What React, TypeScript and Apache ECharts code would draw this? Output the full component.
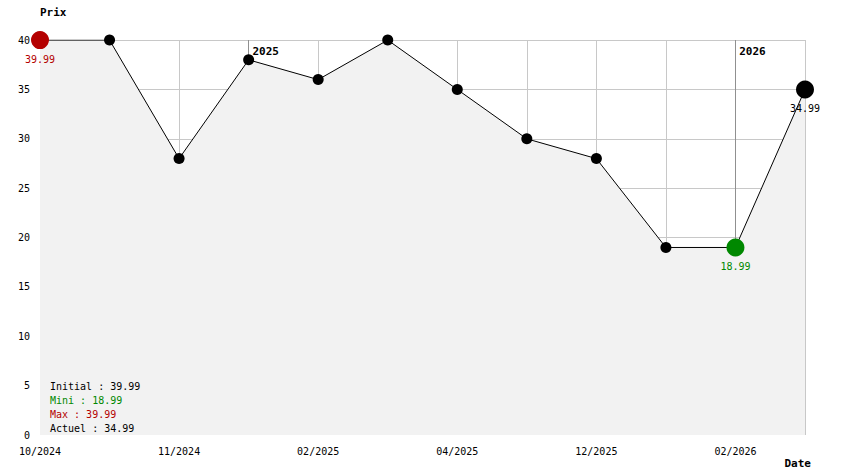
import React, { useEffect, useRef } from "react";
import * as echarts from "echarts";

const dates = [
  "05/10/2024", "25/10/2024", "15/11/2024", "10/01/2025", "03/02/2025", "20/03/2025",
  "12/04/2025", "15/07/2025", "08/12/2025", "28/12/2025", "10/02/2026", "05/03/2026",
];
const prices = [39.99, 39.99, 27.99, 37.99, 35.99, 39.99, 34.99, 29.99, 27.99, 18.99, 18.99, 34.99];
const yTicks = [0, 5, 10, 15, 20, 25, 30, 35, 40];

const RED = "#b40000";
const GREEN = "#008800";
const FONT = "DejaVu Sans Mono";

export default function App() {
  const ref = useRef<HTMLDivElement>(null);
  useEffect(() => {
    if (!ref.current) return;
    document.body.style.margin = "0";
    const chart = echarts.init(ref.current, null, { renderer: "svg" });
    const maxV = Math.max(...prices);
    const minV = Math.min(...prices);
    const maxIdx = prices.indexOf(maxV);
    const minIdx = prices.lastIndexOf(minV);
    const lastIdx = prices.length - 1;
    const fmt = (v: number) => v.toFixed(2);

    const seriesData = prices.map((v, i) => {
      let color = "#000";
      let size = 11;
      let label: any = { show: false };
      if (i === maxIdx) {
        color = RED; size = 18;
        label = { show: true, position: "bottom", color: RED, formatter: fmt(v) };
      } else if (i === minIdx) {
        color = GREEN; size = 18;
        label = { show: true, position: "bottom", color: GREEN, formatter: fmt(v) };
      } else if (i === lastIdx) {
        size = 18;
        label = { show: true, position: "bottom", color: "#000", formatter: fmt(v) };
      }
      return { value: v, symbolSize: size, itemStyle: { color }, label };
    });

    const yearMarks: { idx: number; year: string }[] = [];
    dates.forEach((d, i) => {
      if (i > 0 && d.slice(6) !== dates[i - 1].slice(6)) yearMarks.push({ idx: i, year: d.slice(6) });
    });

    const legendText =
      `{k|Initial : ${fmt(prices[0])}}\n{g|Mini : ${fmt(minV)}}\n{r|Max : ${fmt(maxV)}}\n{k|Actuel : ${fmt(prices[lastIdx])}}`;

    const ySplitColors = yTicks.map((_, i) => (i === 0 ? "rgba(0,0,0,0)" : "#c8c8c8"));

    chart.setOption({
      animation: false,
      backgroundColor: "#fff",
      textStyle: { fontFamily: FONT },
      grid: { left: 40, right: 39, top: 40, bottom: 39 },
      xAxis: {
        type: "category",
        data: dates,
        boundaryGap: false,
        name: "Date",
        nameLocation: "end",
        nameGap: 6,
        nameTextStyle: { align: "right", verticalAlign: "top", padding: [23, 0, 0, 0], fontWeight: "bold", fontSize: 11, color: "#000", fontFamily: FONT },
        axisLine: { show: false },
        axisTick: { show: false },
        axisLabel: {
          interval: 1, color: "#000", fontSize: 10, fontFamily: FONT, margin: 11,
          formatter: (v: string) => v.slice(3),
        },
        splitLine: { show: true, interval: 0, lineStyle: { color: "#c8c8c8", width: 1 } },
      },
      yAxis: {
        type: "value",
        min: yTicks[0],
        max: yTicks[yTicks.length - 1],
        interval: 5,
        name: "Prix",
        nameLocation: "end",
        nameGap: 28,
        nameTextStyle: { align: "left", verticalAlign: "middle", fontWeight: "bold", fontSize: 11, color: "#000", fontFamily: FONT },
        axisLine: { show: false },
        axisTick: { show: false },
        axisLabel: { color: "#000", fontSize: 10, fontFamily: FONT, margin: 10 },
        splitLine: { show: true, lineStyle: { color: ySplitColors, width: 1 } },
      },
      series: [
        {
          type: "line",
          data: seriesData,
          symbol: "circle",
          showAllSymbol: true,
          z: 2,
          lineStyle: { color: "#000", width: 1 },
          areaStyle: { color: "#f2f2f2", opacity: 1 },
          label: { fontFamily: FONT, fontSize: 10 },
          markLine: {
            silent: true,
            z: 1,
            symbol: ["none", "none"],
            lineStyle: { color: "#909090", type: "solid", width: 1 },
            label: {
              show: true, position: "end", distance: 0, offset: [17, 17],
              color: "#000", fontWeight: "bold", fontSize: 11, fontFamily: FONT,
            },
            data: yearMarks.map((m) => ({ xAxis: m.idx, label: { formatter: m.year } })),
          },
        },
      ],
      graphic: [
        {
          type: "text",
          left: 50,
          top: 379,
          z: 10,
          style: {
            text: legendText,
            fontFamily: FONT,
            fontSize: 10,
            lineHeight: 14,
            rich: {
              k: { fill: "#000", fontFamily: FONT, fontSize: 10, lineHeight: 14 },
              g: { fill: GREEN, fontFamily: FONT, fontSize: 10, lineHeight: 14 },
              r: { fill: RED, fontFamily: FONT, fontSize: 10, lineHeight: 14 },
            },
          },
        },
      ],
    });
    return () => chart.dispose();
  }, []);
  return <div ref={ref} style={{ width: 844, height: 474 }} />;
}
